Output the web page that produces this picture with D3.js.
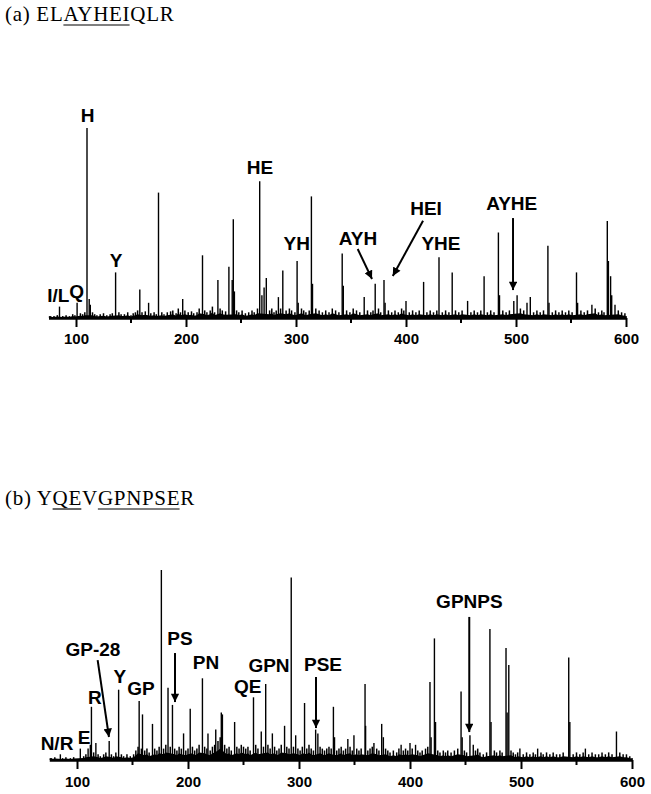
<!DOCTYPE html>
<html>
<head>
<meta charset="utf-8">
<script src="https://cdn.jsdelivr.net/npm/d3@7"></script>
<style>
  body { margin: 0; background: #fff; }
  svg { display: block; }
  .ptitle { font-family: "Liberation Serif", "Times New Roman", serif; font-size: 21px; letter-spacing: 0.7px; }
  .lab { font-family: "Liberation Sans", Arial, sans-serif; font-weight: bold; font-size: 19px; }
  .axis text { font-family: "Liberation Sans", Arial, sans-serif; font-weight: bold; font-size: 15px; fill: #000; }
</style>
</head>
<body>
<svg id="chart" width="651" height="794"></svg>
<script>
// ---- panel (a) ELAYHEIQLR ----
var titleA = "(a) ELAYHEIQLR";
var underlineA = [[6, 10]];          // char ranges underlined

// main peaks: [m/z, relative intensity %]
var peaksA = [
  [85,6],[101,8],[110,100],[112,10],[113,7],[136,24],[158,15],[166,8],[175,66],[197,10],
  [215,33],[229,20],[239,27],[242,20],[243,52],[244,14],[267,72],[269,12],[271,16],[273,21],
  [284,11],[288,25],[301,30],[302,8],[314,64],[315,18],[342,34],[343,17],[362,11],[372,18],
  [380,20],[381,8],[400,9],[416,19],[430,32],[442,24],[456,9],[471,22],[484,45],[485,12],
  [498,9],[501,12],[510,8],[513,11],[529,38],[530,8],[555,24],[556,8],[569,7],[583,51],
  [584,30],[586,22],[587,12],[590,7]
];

// baseline noise (estimated)
var noiseA = [
  [76,1],[77,1],[80,1],[83,1.5],[88,1],[91,1.5],[94,1],[97,2],[99,1.5],[104,2.5],[106,2],[108,3],
  [115,3],[117,2],[119,1.5],[122,2],[125,2.5],[128,1.5],[131,2],[133,2.5],[139,3],[141,2],
  [144,2],[147,3],[150,1.5],[152,2.5],[154,3],[156,4],[160,3],[163,3.5],[168,2.5],[171,3],
  [173,2],[178,3],[180,2],[183,3],[186,3.5],[188,4],[191,2.5],[193,5],[195,3],[199,4],
  [202,3],[205,3.5],[207,2.5],[210,3],[212,5],[217,4],[219,3],[222,4],[224,6],[226,3],
  [231,5],[233,4],[236,3.5],[246,4],[248,3],[251,4],[254,2.5],[257,3],[260,4],[262,3],
  [265,5],[276,4],[278,5],[280,3],[282,4],[286,5],[291,4],[294,5],[296,4],[299,3],
  [305,5],[307,4],[309,3],[312,4],[318,5],[321,4],[324,3],[327,4],[330,3],[333,5],
  [336,4],[339,3],[346,4],[349,3],[352,5],[355,4],[358,3],[365,4],[368,3],[370,4],
  [375,5],[377,3],[384,4],[387,3],[390,4],[393,3],[396,5],[398,4],[403,3],[406,4],
  [409,3],[412,4],[419,3],[422,4],[425,3],[428,4],[433,3],[436,4],[439,3],[445,4],
  [448,3],[451,4],[459,3],[462,4],[465,3],[468,4],[474,3],[477,4],[480,3],[488,4],
  [491,3],[494,4],[504,5],[507,4],[516,3],[519,4],[522,3],[525,4],[533,3],[536,4],
  [539,3],[542,4],[545,3],[548,4],[551,3],[559,4],[562,3],[565,4],[572,5],[575,3],
  [578,4],[580,3],[593,4],[596,3],[599,2.5],[600,1]
];

// labels: [text, m/z, intensity %] (text centre / baseline)
var labelsA = [
  ["H",110.6,103],["Y",136.4,26.8],["HE",267.3,75.8],["YH",300.6,35.8],["AYH",356.4,38.4],
  ["HEI",418.2,54.2],["YHE",431.8,35.8],["AYHE",496.1,56.8],["I/L",83.9,8.6],["Q",100.5,10.3]
];
// arrows: [m/z from, % from, m/z to, % to]
var arrowsA = [
  [356.1,36.3,369.1,20.5],
  [415.5,51.2,388,22.1],
  [497.3,52.6,497.3,14.7]
];

// ---- panel (b) YQEVGPNPSER ----
var titleB = "(b) YQEVGPNPSER";
var underlineB = [[5, 6], [8, 13]];

var peaksB = [
  [85,3],[103,6],[110,6],[112,8],[113,28],[117,9],[129,10],[137.5,37],[156,31],[159,24],
  [168,19],[176,100],[182,38],[186,29],[196,14],[202,27],[213,43],[218,14],[225,16],[230,25],
  [231,24],[242,20],[259,33],[266,15],[270,40],[276,14],[287,18],[293,96],[297,13],[305,30],
  [315,16],[317,14],[331,28],[332,12],[344,11],[349.5,13],[359.5,40],[360,18],[367.5,9],
  [374.5,19],[376,12],[392,8],[400,9],[405,8],[418,41],[419,12],[422,64],[423,20],[446,36],
  [447,12],[454,13],[457,8],[472,69],[473,20],[486.5,59],[487.5,25],[489,50],[499,6],
  [515,6],[543,54],[544,20],[558,6],[586,15]
];

var noiseB = [
  [76,1],[77,1],[80,1.5],[87,1],[90,1.5],[94,1],[97,1.5],[106,2],[108,3],[115,4],[119,3],
  [121,2],[124,3],[126,4],[131,3],[133,2],[135,4],[140,3],[142,2],[145,3],[148,2],
  [151,3],[153,5],[155,7],[158,6],[161,5],[163,6],[165,4],[170,6],[172,5],[174,7],
  [178,6],[180,8],[184,7],[188,6],[190,5],[192,7],[194,6],[198,5],[200,6],[204,7],
  [206,5],[208,6],[210,8],[215,7],[217,6],[220,5],[222,7],[224,8],[227,10],[229,12],
  [233,8],[235,6],[237,7],[239,5],[244,7],[246,6],[248,8],[250,7],[252,6],[254,7],
  [256,5],[261,8],[263,6],[268,7],[272,8],[274,6],[278,7],[280,5],[282,6],[284,8],
  [289,7],[291,6],[295,7],[299,6],[301,5],[303,7],[307,6],[309,8],[311,6],[313,5],
  [319,7],[321,6],[323,5],[325,6],[327,7],[329,6],[334,5],[336,6],[338,7],[340,5],
  [342,6],[346,7],[348,5],[352,6],[354,5],[356,6],[362,5],[364,6],[366,7],[370,6],
  [372,5],[378,6],[380,5],[382,4],[385,5],[388,4],[390,6],[394,5],[396,6],[398,5],
  [402,6],[407,5],[409,4],[411,5],[414,6],[416,7],[425,5],[427,4],[430,5],[432,4],
  [434,5],[437,4],[440,5],[443,6],[449,5],[451,4],[459,5],[461,6],[463,4],[466,3],
  [469,4],[476,5],[478,4],[481,5],[483,4],[491,5],[493,4],[495,3],[497,4],[502,3],
  [505,4],[508,3],[511,4],[513,3],[518,4],[520,3],[523,4],[526,3],[529,4],[532,3],
  [535,3],[538,4],[547,3],[550,4],[553,3],[556,4],[561,3],[564,4],[567,3],[570,3],
  [573,4],[576,3],[579,4],[582,3],[589,4],[592,3],[595,3],[598,2],[600,1]
];

var labelsB = [
  ["N/R",82,5.3],["E",106.3,8.4],["R",116.2,29.5],["GP-28",114.4,54.7],["Y",138.7,40.5],
  ["GP",157.7,34.2],["PS",192.8,60.5],["PN",216.2,47.9],["QE",253.8,35.3],["GPN",273,46.3],
  ["PSE",321.6,46.8],["GPNPS",453.5,80]
];
var arrowsB = [
  [118.6,52.6,128.8,12.1],
  [188.3,56.3,188.3,30.5],
  [315.3,43.7,315.3,16.8],
  [453.4,75.3,453.4,14.7]
];

var xTicks = [100, 200, 300, 400, 500, 600];
var xMinorTicks = [150, 250, 350, 450, 550];

var svg = d3.select("#chart");

svg.append("defs").append("marker")
    .attr("id", "head")
    .attr("viewBox", "0 0 10 10")
    .attr("refX", 10).attr("refY", 5)
    .attr("markerWidth", 4.4).attr("markerHeight", 4.2)
    .attr("markerUnits", "strokeWidth")
    .attr("orient", "auto")
  .append("path")
    .attr("d", "M0,0 L10,5 L0,10 Z")
    .attr("fill", "#000");

function drawTitle(str, ranges, x, y) {
    var t = svg.append("text")
        .attr("class", "ptitle")
        .attr("x", x).attr("y", y)
        .text(str);
    var node = t.node();
    ranges.forEach(function(r) {
        var a = node.getExtentOfChar(r[0]);
        var b = node.getExtentOfChar(r[1]);
        svg.append("line")
            .attr("x1", a.x).attr("x2", b.x + b.width - 0.7)
            .attr("y1", y + 4).attr("y2", y + 4)
            .attr("stroke", "#000").attr("stroke-width", 1.2);
    });
}

function drawPanel(cfg) {
    var x = d3.scaleLinear().domain([75, 600]).range(cfg.xr);
    var y = d3.scaleLinear().domain([0, 100]).range([cfg.base, cfg.base - 190]);
    var g = svg.append("g");

    // noise floor: filled band under the noise spikes, then the spikes
    var floor = d3.area()
        .x(function(d) { return x(d[0]); })
        .y0(y(0))
        .y1(function(d) { return (y(0) + y(d[1])) / 2; });
    g.append("path")
        .datum(cfg.noise)
        .attr("d", floor)
        .attr("fill", "#000");

    g.append("g").selectAll("line")
        .data(cfg.noise).enter().append("line")
        .attr("x1", function(d) { return x(d[0]); })
        .attr("x2", function(d) { return x(d[0]); })
        .attr("y1", y(0))
        .attr("y2", function(d) { return y(d[1]); })
        .attr("stroke", "#000")
        .attr("stroke-width", 1.5);

    // peaks
    g.append("g").selectAll("line")
        .data(cfg.peaks).enter().append("line")
        .attr("x1", function(d) { return x(d[0]); })
        .attr("x2", function(d) { return x(d[0]); })
        .attr("y1", y(0))
        .attr("y2", function(d) { return y(d[1]); })
        .attr("stroke", "#000")
        .attr("stroke-width", 1.4);

    // axis
    var ax = g.append("g")
        .attr("class", "axis")
        .attr("transform", "translate(0," + cfg.base + ")")
        .call(d3.axisBottom(x).tickValues(xTicks).tickSize(9).tickSizeOuter(0).tickPadding(cfg.pad));
    ax.select(".domain").attr("stroke-width", 2.6);
    ax.selectAll(".tick line").attr("stroke-width", 2);

    g.append("g")
        .attr("transform", "translate(0," + cfg.base + ")")
        .selectAll("line")
        .data(xMinorTicks).enter().append("line")
        .attr("x1", function(d) { return x(d); })
        .attr("x2", function(d) { return x(d); })
        .attr("y1", 0).attr("y2", 5)
        .attr("stroke", "#000").attr("stroke-width", 2);

    // labels
    g.append("g").selectAll("text")
        .data(cfg.labels).enter().append("text")
        .attr("class", "lab")
        .attr("text-anchor", "middle")
        .attr("x", function(d) { return x(d[1]); })
        .attr("y", function(d) { return y(d[2]); })
        .text(function(d) { return d[0]; });

    // arrows
    g.append("g").selectAll("line")
        .data(cfg.arrows).enter().append("line")
        .attr("x1", function(d) { return x(d[0]); })
        .attr("y1", function(d) { return y(d[1]); })
        .attr("x2", function(d) { return x(d[2]); })
        .attr("y2", function(d) { return y(d[3]); })
        .attr("stroke", "#000")
        .attr("stroke-width", 2)
        .attr("marker-end", "url(#head)");
}

drawTitle(titleA, underlineA, 5, 21);
drawTitle(titleB, underlineB, 5, 505);

drawPanel({ xr: [48.5, 626], base: 318, pad: 6, peaks: peaksA, noise: noiseA, labels: labelsA, arrows: arrowsA });
drawPanel({ xr: [49.25, 632], base: 760, pad: 7, peaks: peaksB, noise: noiseB, labels: labelsB, arrows: arrowsB });
</script>
</body>
</html>
